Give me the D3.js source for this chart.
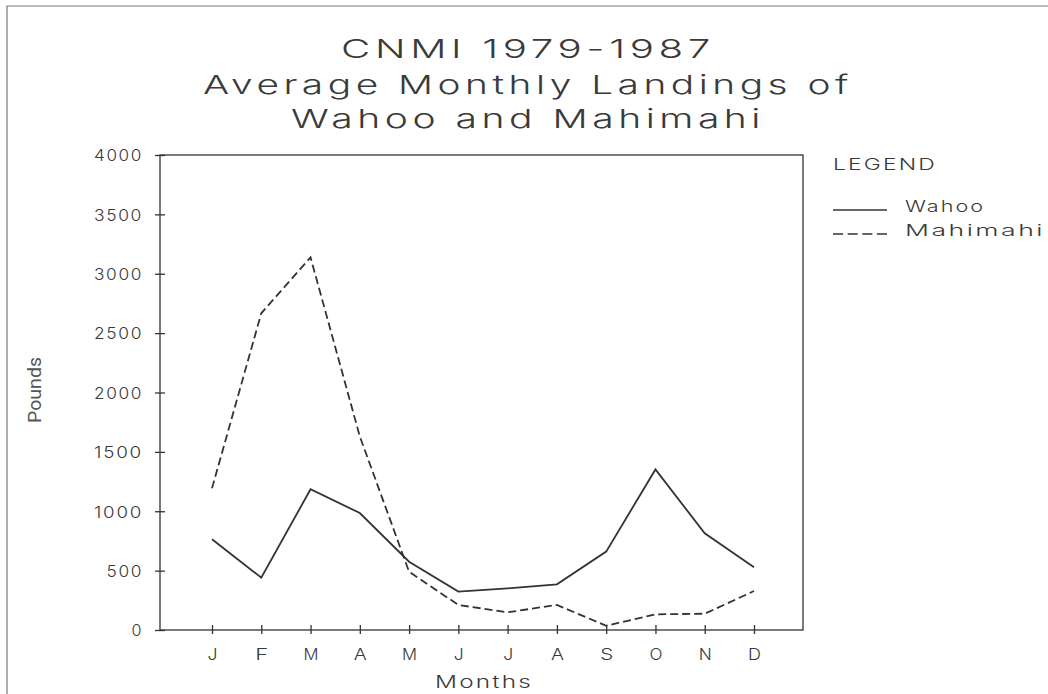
<!DOCTYPE html>
<html>
<head>
<meta charset="utf-8">
<script src="https://cdn.jsdelivr.net/npm/d3@7"></script>
<style>
  html, body { margin: 0; padding: 0; background: #fff; }
  svg { display: block; }
  .plotfont { font-family: "Inter", "Lato", "DejaVu Sans", sans-serif; font-weight: 300; fill: #3a3a3a; }
</style>
</head>
<body>
<svg id="chart" width="1048" height="694"></svg>
<script>
// Month labels along the x axis
const months = ["J", "F", "M", "A", "M", "J", "J", "A", "S", "O", "N", "D"];
// Average monthly landings (pounds), 1979-1987
const wahoo    = [764, 441, 1185, 985, 575, 323, 351, 385, 660, 1352, 814, 528];
const mahimahi = [1193, 2667, 3138, 1630, 490, 211, 149, 211, 36, 132, 137, 328];
// Y axis ticks
const yTicks = [0, 500, 1000, 1500, 2000, 2500, 3000, 3500, 4000];

const titleLines = ["CNMI 1979-1987", "Average Monthly Landings of", "Wahoo and Mahimahi"];
const seriesNames = ["Wahoo", "Mahimahi"];

const svg = d3.select("#chart");
const ink = "#333";

// Wide, evenly spaced lettering: stretch glyphs and spacing to a set width
function wide(sel, width, spacing) {
  return sel.attr("letter-spacing", spacing)
    .attr("textLength", width)
    .attr("lengthAdjust", "spacingAndGlyphs");
}

// Page border (top and left edges)
svg.append("path")
  .attr("d", "M7,694 L7,6 L1048,6")
  .attr("fill", "none").attr("stroke", "#777").attr("stroke-width", 1.2);

const frame = { left: 160, right: 803, top: 155, bottom: 630 };

const x = d3.scalePoint().domain(d3.range(months.length)).range([212, 754]);
const y = d3.scaleLinear().domain([0, 4000]).range([frame.bottom, frame.top]);

// Title
const titleLayout = [
  { base: 58, width: 374 },
  { base: 94, width: 650 },
  { base: 128, width: 474 }
];
titleLines.forEach((t, i) => {
  svg.append("text")
    .attr("class", "plotfont")
    .attr("x", 528).attr("y", titleLayout[i].base)
    .attr("text-anchor", "middle")
    .attr("font-size", 26)
    .call(wide, titleLayout[i].width, 3)
    .text(t);
});

// Plot frame
svg.append("rect")
  .attr("x", frame.left).attr("y", frame.top)
  .attr("width", frame.right - frame.left).attr("height", frame.bottom - frame.top)
  .attr("fill", "none").attr("stroke", ink).attr("stroke-width", 1.3);

// Y axis
const yAxis = svg.append("g")
  .attr("transform", `translate(${frame.left},0)`)
  .call(d3.axisLeft(y).tickValues(yTicks).tickFormat(d3.format("d"))
    .tickSizeInner(5).tickSizeOuter(0).tickPadding(12));
yAxis.select(".domain").remove();
yAxis.selectAll(".tick line").attr("x1", 5).attr("stroke", ink).attr("stroke-width", 1.3);
yAxis.selectAll(".tick text")
  .attr("class", "plotfont")
  .attr("font-size", 16)
  .attr("dy", "0.36em")
  .each(function(d) {
    const s = String(d);
    wide(d3.select(this), s.length * 12.5 - 1, 1.5);
  });

// X axis
const xAxis = svg.append("g")
  .attr("transform", `translate(0,${frame.bottom})`)
  .call(d3.axisBottom(x).tickSizeInner(4).tickSizeOuter(0).tickPadding(15)
    .tickFormat(i => months[i]));
xAxis.select(".domain").remove();
xAxis.selectAll(".tick line").attr("y1", -5).attr("stroke", ink).attr("stroke-width", 1.3);
xAxis.selectAll(".tick text")
  .attr("class", "plotfont")
  .attr("font-size", 16)
  .attr("dy", "0.71em")
  .each(function(d) {
    const ch = months[d];
    const w = ch === "M" ? 15 : (ch === "J" ? 10 : 13);
    wide(d3.select(this), w, 0);
  });

// Axis titles
svg.append("text")
  .attr("class", "plotfont")
  .attr("x", 484).attr("y", 688)
  .attr("text-anchor", "middle")
  .attr("font-size", 17)
  .call(wide, 98, 1.5)
  .text("Months");

svg.append("text")
  .attr("transform", "translate(41,390) rotate(-90)")
  .attr("text-anchor", "middle")
  .attr("font-family", "'Liberation Sans Narrow', 'Roboto', sans-serif")
  .attr("font-size", 18)
  .attr("fill", "#555")
  .attr("textLength", 66).attr("lengthAdjust", "spacingAndGlyphs")
  .text("Pounds");

// Series lines
const line = d3.line().x((d, i) => x(i)).y(d => y(d));
svg.append("path")
  .datum(wahoo)
  .attr("d", line)
  .attr("fill", "none").attr("stroke", ink).attr("stroke-width", 1.8)
  .attr("stroke-linejoin", "miter");
svg.append("path")
  .datum(mahimahi)
  .attr("d", line)
  .attr("fill", "none").attr("stroke", ink).attr("stroke-width", 1.8)
  .attr("stroke-dasharray", "8,4");

// Legend
const lg = svg.append("g");
lg.append("text").attr("class", "plotfont")
  .attr("x", 833).attr("y", 170).attr("font-size", 16)
  .call(wide, 104, 1.5)
  .text("LEGEND");
const legendRows = [
  { y: 210, dash: null, width: 80 },
  { y: 234, dash: "10,4.67", width: 140 }
];
seriesNames.forEach((name, i) => {
  const r = legendRows[i];
  lg.append("line")
    .attr("x1", 833).attr("x2", 887).attr("y1", r.y).attr("y2", r.y)
    .attr("stroke", ink).attr("stroke-width", 1.6)
    .attr("stroke-dasharray", r.dash);
  lg.append("text").attr("class", "plotfont")
    .attr("x", 905).attr("y", r.y + 2).attr("font-size", 16)
    .call(wide, r.width, 1.5)
    .text(name);
});
</script>
</body>
</html>
